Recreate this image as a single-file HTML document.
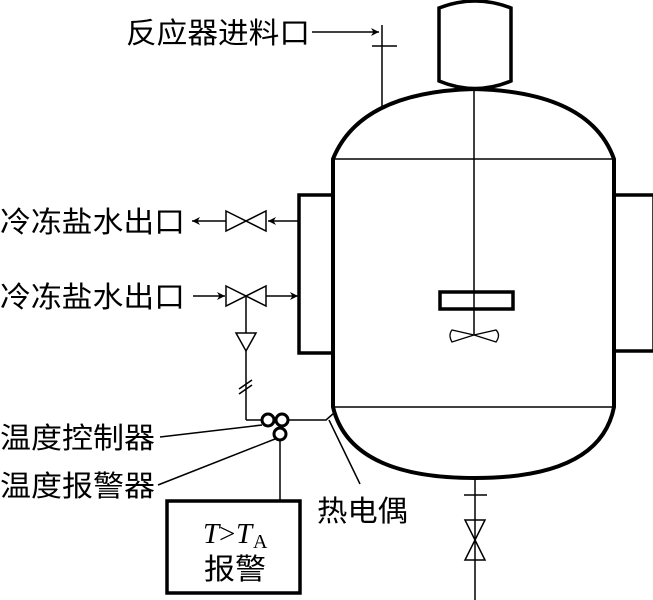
<!DOCTYPE html>
<html><head><meta charset="utf-8"><style>
html,body{margin:0;padding:0;background:#fff;width:653px;height:600px;overflow:hidden}
svg{display:block}
text{font-family:"Liberation Serif","Noto Sans CJK SC",sans-serif;fill:#000}
</style></head><body>
<svg width="653" height="600" viewBox="0 0 653 600" xmlns="http://www.w3.org/2000/svg">
<defs>
<marker id="ar" viewBox="0 0 10 10" refX="10" refY="5" markerWidth="12" markerHeight="8" orient="auto" markerUnits="userSpaceOnUse">
<path d="M0,0 L10,5 L0,10 L3,5 z" fill="#000"/></marker>
</defs>
<g fill="none" stroke="#000">
<path d="M439,8 Q475,-6 511,8 L511,81 Q475,96 439,81 Z" stroke-width="3.5"/>
<path d="M333,159 Q360,92 474,89 Q590,92 614,159 L614,407 Q600,478 475,478 Q350,478 333,407 Z" stroke-width="4"/>
<line x1="333" y1="159" x2="614" y2="159" stroke-width="1.5"/>
<line x1="333" y1="407" x2="614" y2="407" stroke-width="1.5"/>
<line x1="474" y1="89" x2="474" y2="335" stroke-width="1.5"/>
<rect x="440" y="292" width="73" height="17" stroke-width="3.5"/>
<path d="M474,335 L452,330 Q448,335 452,342 Z M474,335 L496,330 Q501,335 496,342 Z" stroke-width="1.3"/>
<rect x="299" y="195" width="34" height="158" stroke-width="3.5"/>
<rect x="614" y="195" width="40" height="156" stroke-width="3.5"/>
<line x1="382" y1="25" x2="382" y2="108" stroke-width="1.5"/>
<line x1="372" y1="46" x2="397" y2="46" stroke-width="1.5"/>
<line x1="312" y1="32" x2="379" y2="32" stroke-width="1.5" marker-end="url(#ar)"/>
<line x1="299" y1="221" x2="268" y2="221" stroke-width="1.5" marker-end="url(#ar)"/>
<path d="M226,211 L266,231 L266,211 L226,231 Z" stroke-width="1.5"/>
<line x1="226" y1="221" x2="192" y2="221" stroke-width="1.5" marker-end="url(#ar)"/>
<line x1="193" y1="296" x2="225" y2="296" stroke-width="1.5" marker-end="url(#ar)"/>
<path d="M226,286 L266,306 L266,286 L226,306 Z" stroke-width="1.5"/>
<line x1="266" y1="296" x2="298" y2="296" stroke-width="1.5" marker-end="url(#ar)"/>
<line x1="246" y1="296" x2="246" y2="420" stroke-width="1.5"/>
<path d="M236,333 L256,333 L246,351 Z" fill="#fff" stroke-width="1.5"/>
<line x1="239" y1="389" x2="252" y2="380" stroke-width="1.5"/>
<line x1="239" y1="394" x2="252" y2="385" stroke-width="1.5"/>
<line x1="246" y1="420" x2="262" y2="420" stroke-width="1.5"/>
<circle cx="268" cy="420" r="6" stroke-width="3"/>
<circle cx="282" cy="420" r="6" stroke-width="3"/>
<circle cx="280" cy="434" r="6" stroke-width="3"/>
<polyline points="288,420 326,420 334,413" stroke-width="1.5"/>
<line x1="329" y1="420" x2="360" y2="484" stroke-width="1.5"/>
<line x1="160" y1="437" x2="262" y2="425" stroke-width="1.5"/>
<line x1="158" y1="485" x2="275" y2="439" stroke-width="1.5"/>
<line x1="280" y1="440" x2="280" y2="501" stroke-width="1.5"/>
<rect x="167" y="501" width="133" height="92" stroke-width="3.5"/>
<line x1="475" y1="478" x2="475" y2="600" stroke-width="1.5"/>
<line x1="464" y1="495" x2="487" y2="495" stroke-width="1.5"/>
<path d="M465,520 L485,520 L465,560 L485,560 Z" stroke-width="1.5"/>
</g>
<g font-size="29">
<text x="126" y="43" textLength="184" lengthAdjust="spacingAndGlyphs">反应器进料口</text>
<text x="0" y="232" textLength="185" lengthAdjust="spacingAndGlyphs">冷冻盐水出口</text>
<text x="0" y="307" textLength="185" lengthAdjust="spacingAndGlyphs">冷冻盐水出口</text>
<text x="0" y="448" textLength="155" lengthAdjust="spacingAndGlyphs">温度控制器</text>
<text x="0" y="496" textLength="155" lengthAdjust="spacingAndGlyphs">温度报警器</text>
<text x="317" y="521" textLength="91" lengthAdjust="spacingAndGlyphs">热电偶</text>
<text x="204" y="579" textLength="62" lengthAdjust="spacingAndGlyphs">报警</text>
<text x="203" y="543" font-style="italic">T</text>
<text x="219" y="543">&gt;</text>
<text x="236" y="543" font-style="italic">T</text>
<text x="253" y="548" font-size="20">A</text>
</g>
</svg>
</body></html>
